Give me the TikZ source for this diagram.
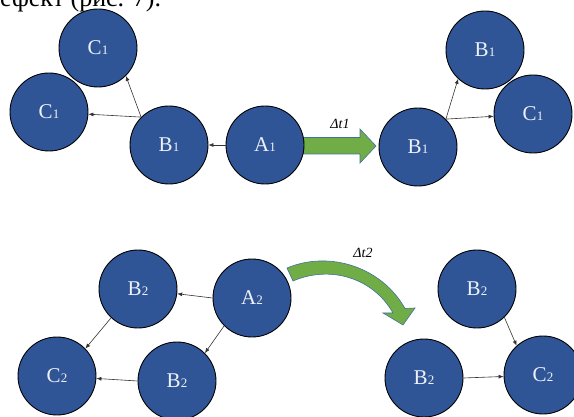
\documentclass[tikz,border=0pt]{standalone}
\usepackage{fontspec}
\setmainfont{Liberation Serif}
\usetikzlibrary{arrows.meta}
\definecolor{nodeblue}{HTML}{2F5597}
\definecolor{arrgreen}{HTML}{70AD47}
\definecolor{arredge}{HTML}{41719C}
\newcommand{\balltext}[2]{{\fontsize{21}{21}\selectfont #1}{\fontsize{13}{13}\selectfont #2}}
\begin{document}
\begin{tikzpicture}[x=1pt,y=1pt,
  ball/.style={circle,draw=black,line width=0.9pt,fill=nodeblue,text=white!92!nodeblue,minimum size=78pt,inner sep=0pt},
  conn/.style={draw=black!80,line width=0.6pt,-{Latex[length=5pt,width=4pt]}},
  bigarrow/.style={fill=arrgreen,draw=arredge,line width=0.6pt},
  dlabel/.style={font=\fontsize{14}{14}\selectfont\itshape}]
\useasboundingbox (0,-417) rectangle (574,0);
\clip (0,-417) rectangle (574,0);
\node[anchor=base west,font=\fontsize{26}{26}\selectfont,inner sep=0pt] (cap) at (0,-7) {ефект (рис. 7).};
% green block arrows
\draw[bigarrow] (303,-137.5) -- (360,-137.5) -- (360,-129) -- (376,-146) -- (360,-163) -- (360,-154) -- (303,-154) -- cycle;
\draw[bigarrow] (287,-268) .. controls (330,-250) and (382,-267.4) .. (405,-308.5) -- (415,-308) -- (403,-325) -- (383,-313) -- (393,-313) .. controls (373,-277.6) and (330,-265) .. (293,-281) -- cycle;
\node[dlabel] (dt1) at (340,-124) {Δt1};
\node[dlabel] (dt2) at (363,-252.5) {Δt2};
% top row
\node[ball] (C1a) at (98,-48) {\balltext{C}{1}};
\node[ball] (C1b) at (49,-112) {\balltext{C}{1}};
\node[ball] (B1) at (169,-145) {\balltext{B}{1}};
\node[ball] (A1) at (265,-145) {\balltext{A}{1}};
\node[ball] (B1r) at (418,-147) {\balltext{B}{1}};
\node[ball] (B1rt) at (485,-50) {\balltext{B}{1}};
\node[ball] (C1r) at (533,-114) {\balltext{C}{1}};
% bottom row
\node[ball] (B2t) at (138,-289) {\balltext{B}{2}};
\node[ball] (A2) at (252,-298) {\balltext{A}{2}};
\node[ball] (C2) at (57,-376) {\balltext{C}{2}};
\node[ball] (B2b) at (177,-381) {\balltext{B}{2}};
\node[ball] (B2rt) at (477,-289) {\balltext{B}{2}};
\node[ball] (B2rb) at (424,-378) {\balltext{B}{2}};
\node[ball] (C2r) at (543,-375) {\balltext{C}{2}};
% connectors
\draw[conn] (A1) -- (B1);
\draw[conn] (B1.135) -- (C1a.-45);
\draw[conn] (B1.135) -- (C1b);
\draw[conn] (B1r.45) -- (B1rt.-133);
\draw[conn] (B1r.45) -- (C1r);
\draw[conn] (A2.west) -- (B2t);
\draw[conn] (A2.225) -- (B2b.45);
\draw[conn] (B2t.227) -- (C2.44);
\draw[conn] (B2b.west) -- (C2);
\draw[conn] (B2rt.-46) -- (C2r.132);
\draw[conn] (B2rb.east) -- (C2r);
\end{tikzpicture}
\end{document}
